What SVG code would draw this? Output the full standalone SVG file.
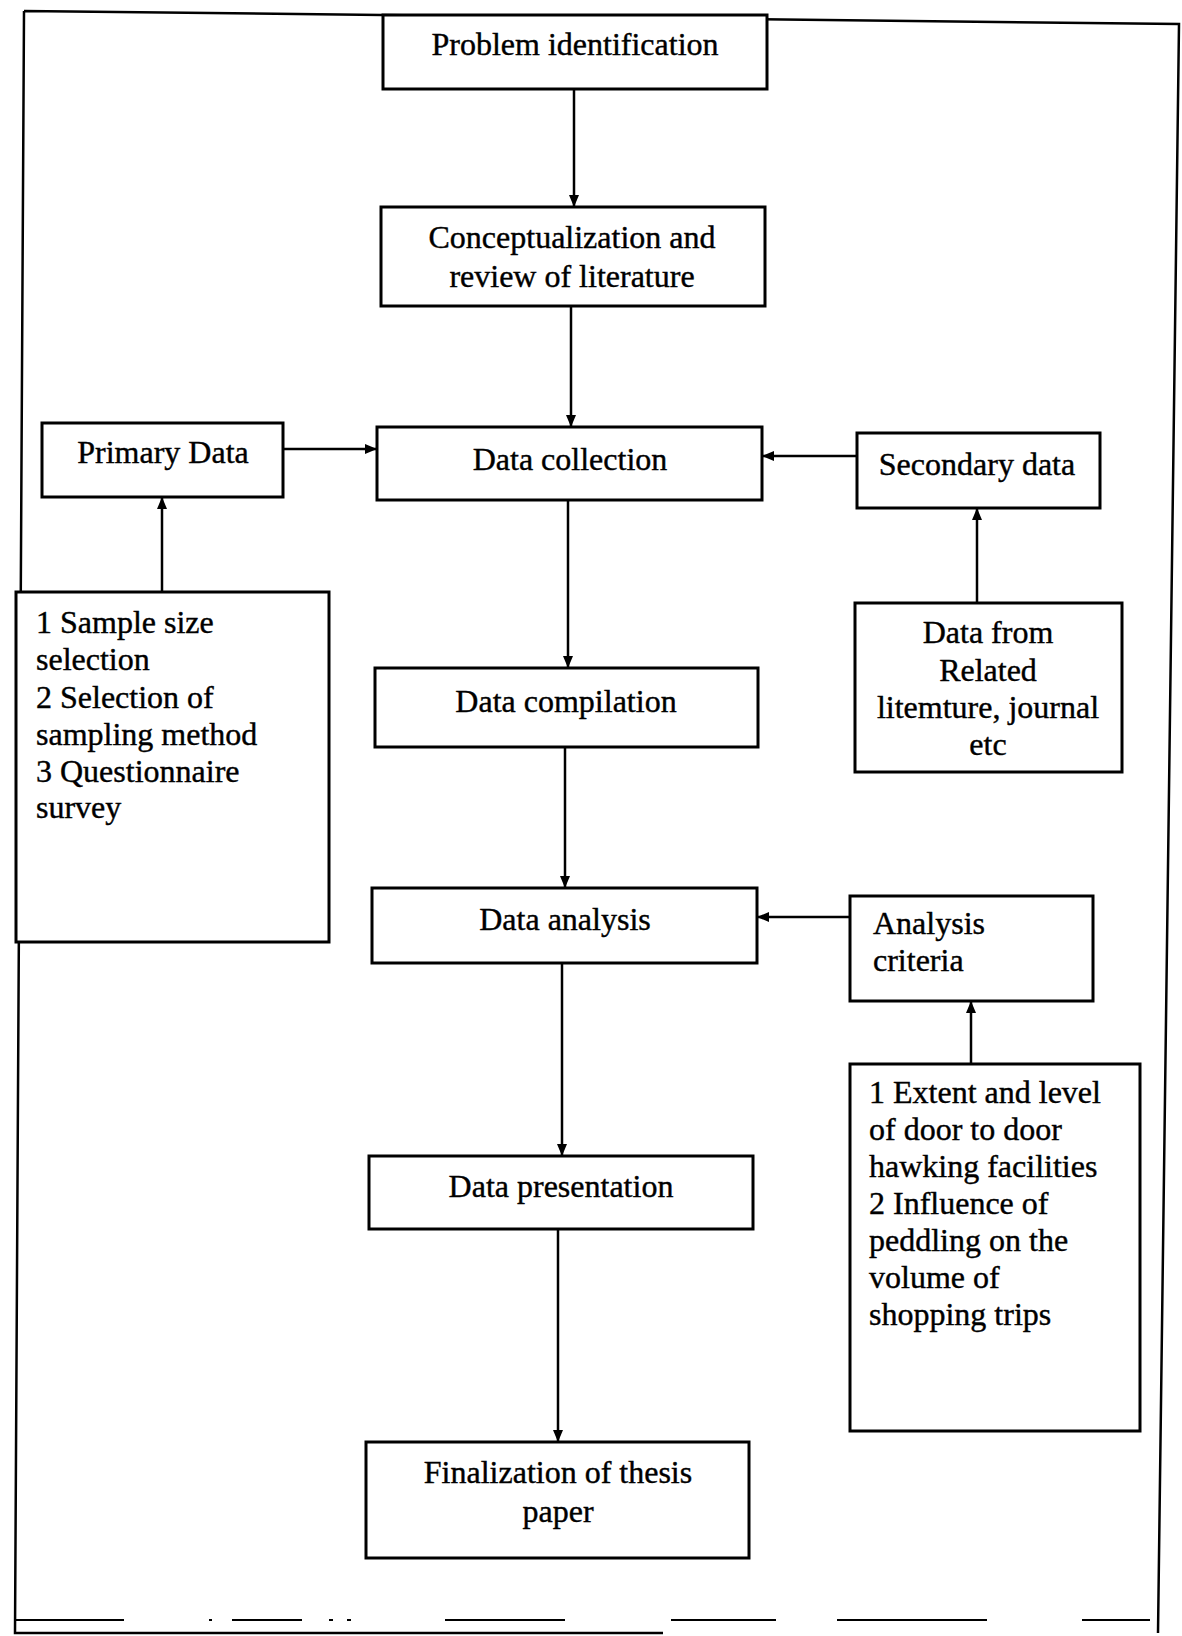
<svg xmlns="http://www.w3.org/2000/svg" width="1182" height="1636" viewBox="0 0 1182 1636">
<style>
  .box { fill: #fff; stroke: #000; stroke-width: 3; }
  .t { font-family: "Liberation Serif", "Times New Roman", serif; font-size: 32px; fill: #000; stroke: #000; stroke-width: 0.4; }
  .c { text-anchor: middle; }
  .frame { fill: none; stroke: #000; stroke-width: 2.5; }
  .conn line { stroke: #000; stroke-width: 2.5; }
  .dash { stroke: #000; stroke-width: 2; }
</style>
<defs>
  <marker id="arr" markerUnits="userSpaceOnUse" markerWidth="14" markerHeight="12" refX="12" refY="5" orient="auto">
    <path d="M0,0 L12,5 L0,10 z" fill="#000"/>
  </marker>
</defs>
<rect x="0" y="0" width="1182" height="1636" fill="#fff"/>

<g id="frame">
  <path class="frame" d="M24,11 L1179,24 L1158,1633 M24,11 L15,1633 L663,1633"/>
  <g class="dash">
    <line x1="15" y1="1620" x2="124" y2="1620"/>
    <line x1="209" y1="1620" x2="212" y2="1620"/>
    <line x1="232" y1="1620" x2="302" y2="1620"/>
    <line x1="329" y1="1620" x2="333" y2="1620"/>
    <line x1="347" y1="1620" x2="351" y2="1620"/>
    <line x1="445" y1="1620" x2="565" y2="1620"/>
    <line x1="671" y1="1620" x2="776" y2="1620"/>
    <line x1="837" y1="1620" x2="987" y2="1620"/>
    <line x1="1082" y1="1620" x2="1150" y2="1620"/>
  </g>
</g>

<g id="connectors" class="conn">
  <line x1="574" y1="89" x2="574" y2="207" marker-end="url(#arr)"/>
  <line x1="571" y1="306" x2="571" y2="427" marker-end="url(#arr)"/>
  <line x1="283" y1="449" x2="377" y2="449" marker-end="url(#arr)"/>
  <line x1="857" y1="456" x2="762" y2="456" marker-end="url(#arr)"/>
  <line x1="162" y1="592" x2="162" y2="497" marker-end="url(#arr)"/>
  <line x1="977" y1="603" x2="977" y2="508" marker-end="url(#arr)"/>
  <line x1="568" y1="500" x2="568" y2="668" marker-end="url(#arr)"/>
  <line x1="565" y1="747" x2="565" y2="888" marker-end="url(#arr)"/>
  <line x1="850" y1="917" x2="757" y2="917" marker-end="url(#arr)"/>
  <line x1="971" y1="1064" x2="971" y2="1001" marker-end="url(#arr)"/>
  <line x1="562" y1="963" x2="562" y2="1156" marker-end="url(#arr)"/>
  <line x1="558" y1="1229" x2="558" y2="1442" marker-end="url(#arr)"/>
</g>

<g id="problem">
  <rect class="box" x="383" y="15" width="384" height="74"/>
  <text class="t c" x="575" y="55">Problem identification</text>
</g>
<g id="concept">
  <rect class="box" x="381" y="207" width="384" height="99"/>
  <text class="t c" x="572" y="248">Conceptualization and</text>
  <text class="t c" x="572" y="287">review of literature</text>
</g>
<g id="primary">
  <rect class="box" x="42" y="423" width="241" height="74"/>
  <text class="t c" x="163" y="463">Primary Data</text>
</g>
<g id="collection">
  <rect class="box" x="377" y="427" width="385" height="73"/>
  <text class="t c" x="570" y="470">Data collection</text>
</g>
<g id="secondary">
  <rect class="box" x="857" y="433" width="243" height="75"/>
  <text class="t c" x="977" y="475">Secondary data</text>
</g>
<g id="sample">
  <rect class="box" x="16" y="592" width="313" height="350"/>
  <text class="t" x="36" y="633">1 Sample size</text>
  <text class="t" x="36" y="670">selection</text>
  <text class="t" x="36" y="708">2 Selection of</text>
  <text class="t" x="36" y="745">sampling method</text>
  <text class="t" x="36" y="782">3 Questionnaire</text>
  <text class="t" x="36" y="818">survey</text>
</g>
<g id="compilation">
  <rect class="box" x="375" y="668" width="383" height="79"/>
  <text class="t c" x="566" y="712">Data compilation</text>
</g>
<g id="datafrom">
  <rect class="box" x="855" y="603" width="267" height="169"/>
  <text class="t c" x="988" y="643">Data from</text>
  <text class="t c" x="988" y="681">Related</text>
  <text class="t c" x="988" y="718">litemture, journal</text>
  <text class="t c" x="988" y="755">etc</text>
</g>
<g id="analysis">
  <rect class="box" x="372" y="888" width="385" height="75"/>
  <text class="t c" x="565" y="930">Data analysis</text>
</g>
<g id="criteria">
  <rect class="box" x="850" y="896" width="243" height="105"/>
  <text class="t" x="873" y="934">Analysis</text>
  <text class="t" x="873" y="971">criteria</text>
</g>
<g id="extent">
  <rect class="box" x="850" y="1064" width="290" height="367"/>
  <text class="t" x="869" y="1103">1 Extent and level</text>
  <text class="t" x="869" y="1140">of door to door</text>
  <text class="t" x="869" y="1177">hawking facilities</text>
  <text class="t" x="869" y="1214">2 Influence of</text>
  <text class="t" x="869" y="1251">peddling on the</text>
  <text class="t" x="869" y="1288">volume of</text>
  <text class="t" x="869" y="1325">shopping trips</text>
</g>
<g id="presentation">
  <rect class="box" x="369" y="1156" width="384" height="73"/>
  <text class="t c" x="561" y="1197">Data presentation</text>
</g>
<g id="final">
  <rect class="box" x="366" y="1442" width="383" height="116"/>
  <text class="t c" x="558" y="1483">Finalization of thesis</text>
  <text class="t c" x="558" y="1522">paper</text>
</g>
</svg>
